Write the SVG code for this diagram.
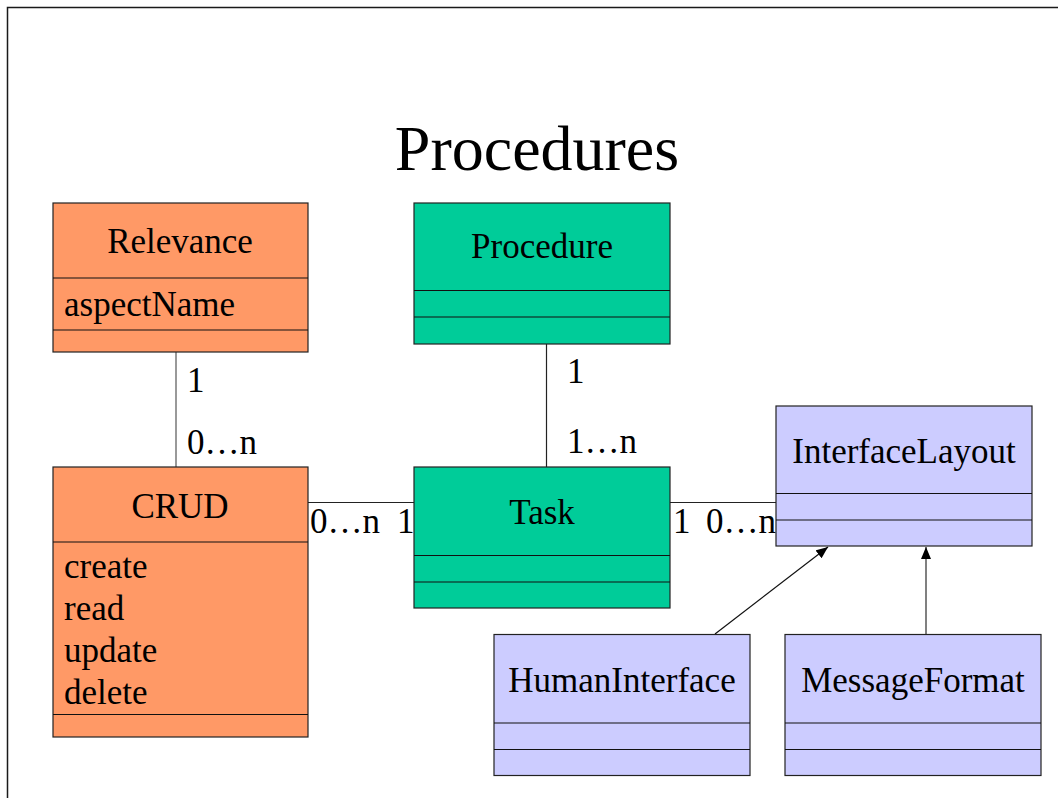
<svg xmlns="http://www.w3.org/2000/svg" width="1058" height="798" viewBox="0 0 1058 798">
  <style>
    text { font-family: "Liberation Serif", "Times New Roman", serif; fill: #000; }
    .title { font-size: 64px; text-anchor: middle; }
    .name { font-size: 35px; text-anchor: middle; }
    .attr { font-size: 35px; }
    .mult { font-size: 35px; }
    .box { stroke: #222; stroke-width: 1.2; }
    .div { stroke: #111; stroke-width: 1.2; }
    .orange { fill: #FF9966; }
    .green { fill: #00CC99; }
    .lav { fill: #CCCCFF; }
    .assoc { stroke: #777; stroke-width: 1.5; fill: none; }
    .assoc-dark { stroke: #222; stroke-width: 1.2; fill: none; }
    .gen { stroke: #111; stroke-width: 1.2; fill: none; }
    .gen-gray { stroke: #808080; stroke-width: 2; fill: none; }
  </style>
  <defs>
    <marker id="tri" viewBox="0 0 12 10" refX="12" refY="5" markerWidth="12" markerHeight="10" markerUnits="userSpaceOnUse" orient="auto">
      <path d="M0,0 L12,5 L0,10 Z" fill="#000"/>
    </marker>
  </defs>

  <rect width="1058" height="798" fill="#fff"/>
  <!-- page frame -->
  <path d="M7.5,798 V7.5 H1058" fill="none" stroke="#1a1a1a" stroke-width="1.5"/>

  <text class="title" x="537" y="170">Procedures</text>

  <!-- connectors -->
  <g id="connectors">
    <line class="assoc" x1="176" y1="352" x2="176" y2="467"/>
    <line class="assoc-dark" x1="546.5" y1="344" x2="546.5" y2="467"/>
    <line class="assoc-dark" x1="308" y1="502.5" x2="414" y2="502.5"/>
    <line class="assoc-dark" x1="670" y1="502.5" x2="776" y2="502.5"/>
    <line class="gen" x1="715" y1="634" x2="828" y2="547" marker-end="url(#tri)"/>
    <line class="gen-gray" x1="926" y1="634" x2="926" y2="547" marker-end="url(#tri)"/>

    <text class="mult" x="187" y="392">1</text>
    <text class="mult" x="187" y="454">0…n</text>
    <text class="mult" x="567" y="383">1</text>
    <text class="mult" x="567" y="453">1…n</text>
    <text class="mult" x="310" y="533">0…n</text>
    <text class="mult" x="397" y="533">1</text>
    <text class="mult" x="673" y="533">1</text>
    <text class="mult" x="706" y="533">0…n</text>
  </g>

  <g id="relevance">
    <rect class="box orange" x="53" y="203" width="255" height="149"/>
    <line class="div" x1="53" y1="278" x2="308" y2="278"/>
    <line class="div" x1="53" y1="330" x2="308" y2="330"/>
    <text class="name" x="180" y="253">Relevance</text>
    <text class="attr" x="64" y="316">aspectName</text>
  </g>

  <g id="procedure">
    <rect class="box green" x="414" y="203" width="256" height="141"/>
    <line class="div" x1="414" y1="290.5" x2="670" y2="290.5"/>
    <line class="div" x1="414" y1="317" x2="670" y2="317"/>
    <text class="name" x="542" y="258">Procedure</text>
  </g>

  <g id="crud">
    <rect class="box orange" x="53" y="467" width="255" height="270"/>
    <line class="div" x1="53" y1="542" x2="308" y2="542"/>
    <line class="div" x1="53" y1="714.5" x2="308" y2="714.5"/>
    <text class="name" x="180" y="518">CRUD</text>
    <text class="attr" x="64" y="578">create</text>
    <text class="attr" x="64" y="620">read</text>
    <text class="attr" x="64" y="662">update</text>
    <text class="attr" x="64" y="704">delete</text>
  </g>

  <g id="task">
    <rect class="box green" x="414" y="467" width="256" height="141"/>
    <line class="div" x1="414" y1="555.5" x2="670" y2="555.5"/>
    <line class="div" x1="414" y1="582" x2="670" y2="582"/>
    <text class="name" x="542" y="524">Task</text>
  </g>

  <g id="interfaceLayout">
    <rect class="box lav" x="776" y="406" width="256" height="140"/>
    <line class="div" x1="776" y1="493.5" x2="1032" y2="493.5"/>
    <line class="div" x1="776" y1="520" x2="1032" y2="520"/>
    <text class="name" x="904" y="463">InterfaceLayout</text>
  </g>

  <g id="humanInterface">
    <rect class="box lav" x="494" y="634.5" width="256" height="141"/>
    <line class="div" x1="494" y1="723" x2="750" y2="723"/>
    <line class="div" x1="494" y1="749.5" x2="750" y2="749.5"/>
    <text class="name" x="622" y="692">HumanInterface</text>
  </g>

  <g id="messageFormat">
    <rect class="box lav" x="785" y="634.5" width="256" height="141"/>
    <line class="div" x1="785" y1="723" x2="1041" y2="723"/>
    <line class="div" x1="785" y1="749.5" x2="1041" y2="749.5"/>
    <text class="name" x="913" y="692">MessageFormat</text>
  </g>
</svg>
